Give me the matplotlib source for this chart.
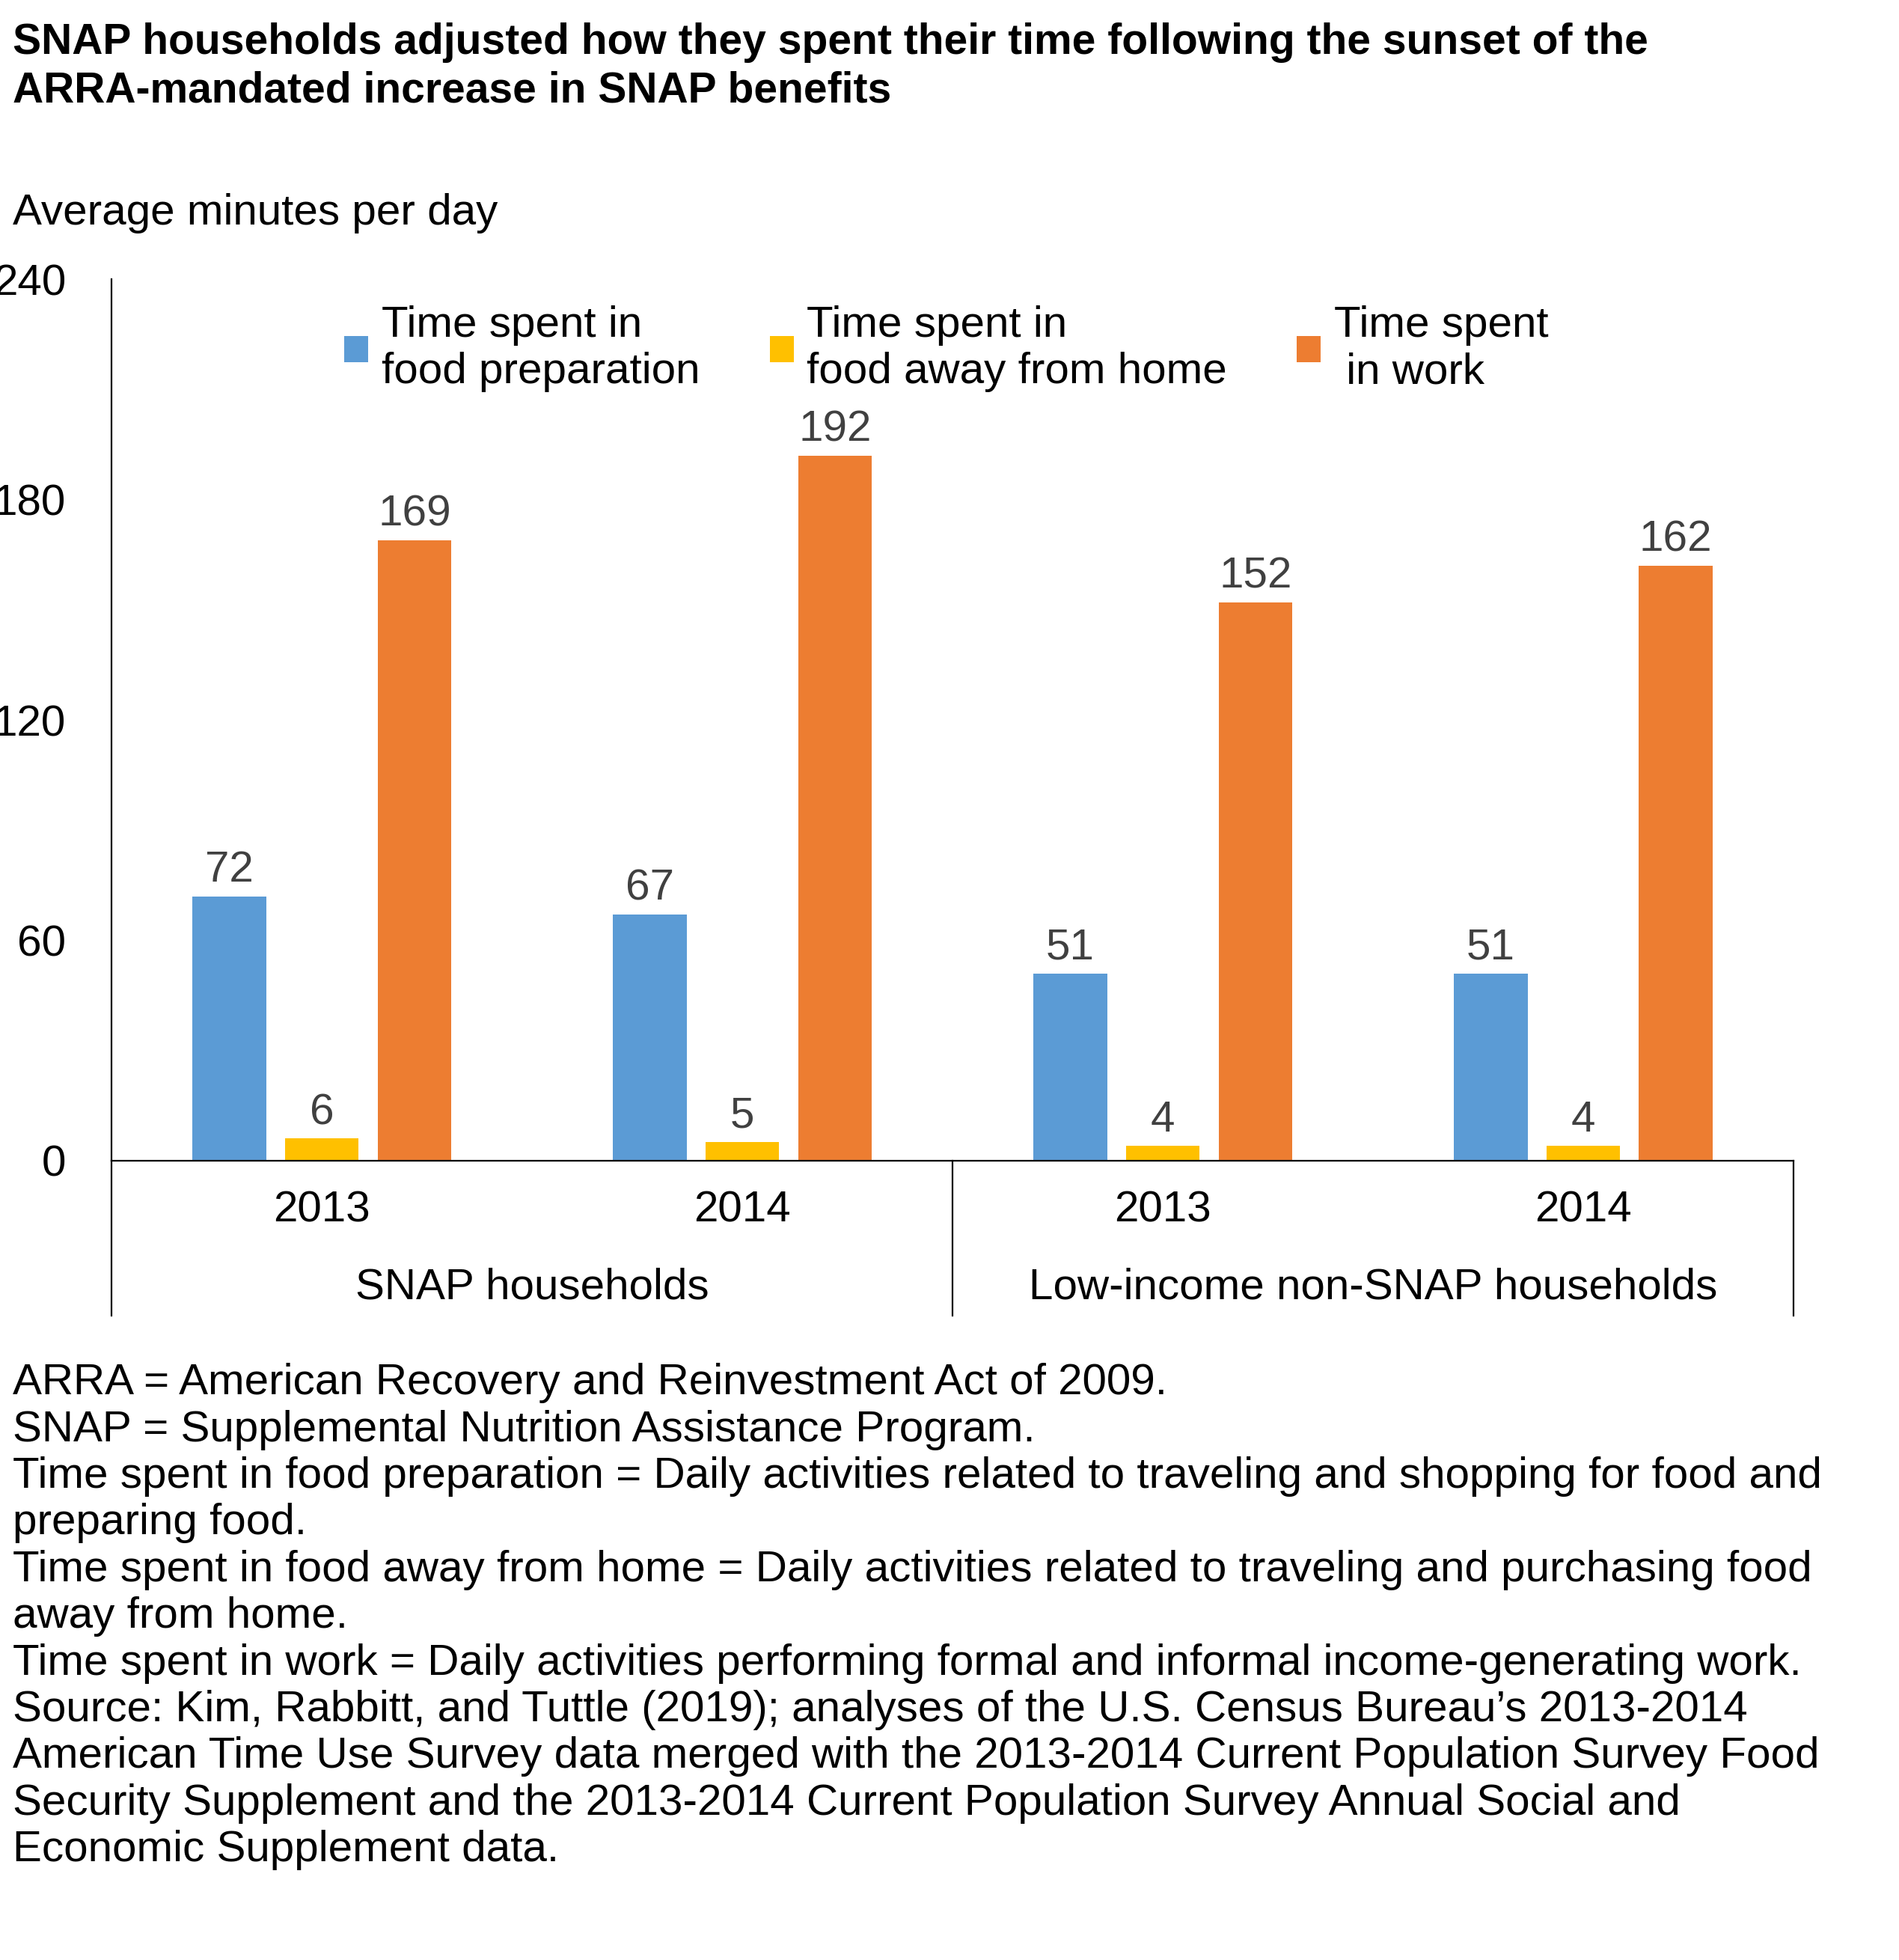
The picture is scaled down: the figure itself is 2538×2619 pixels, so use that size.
import numpy as np
import matplotlib.pyplot as plt
from matplotlib.lines import Line2D

plt.rcParams['font.family'] = ['Liberation Sans', 'DejaVu Sans']

years = ['2013', '2014', '2013', '2014']
groups = ['SNAP households', 'Low-income non-SNAP households']
series = ['Time spent in\nfood preparation', 'Time spent in\nfood away from home', 'Time spent\n in work']
food_prep = [72, 67, 51, 51]
food_away = [6, 5, 4, 4]
work = [169, 192, 152, 162]
colors = ['#5b9bd5', '#ffc000', '#ed7d31']

W, H = 1530, 1579
FS = 21
fig = plt.figure(figsize=(12.69, 13.095), dpi=200)
ax = fig.add_axes([90 / W, 1 - 935 / H, (1445 - 90) / W, (935 - 225) / H])

x = np.arange(len(years))
bw = 0.175
for off, vals, c, lab in zip([-0.22, 0, 0.22], [food_prep, food_away, work], colors, series):
    bars = ax.bar(x + off, vals, bw, color=c, label=lab)
    for b, v in zip(bars, vals):
        ax.text(b.get_x() + b.get_width() / 2, v + 1.5, str(v), ha='center', va='bottom',
                fontsize=FS, color='#404040')

ax.set_xlim(-0.5, 3.5)
ax.set_ylim(0, 240)
ax.set_yticks([0, 60, 120, 180, 240])
ax.tick_params(axis='y', length=0, labelsize=FS, pad=22)
ax.tick_params(axis='x', length=0)
ax.set_xticks([])
for s in ['top', 'right']:
    ax.spines[s].set_visible(False)
ax.spines['left'].set_linewidth(0.8)
ax.spines['bottom'].set_linewidth(0.8)

# category axis below
ybot = -(1060 - 935) / (935 - 225)
for xa in [0, 0.5, 1]:
    ax.add_line(Line2D([xa, xa], [0, ybot], transform=ax.transAxes, color='black',
                       lw=0.8, clip_on=False))
for xi, yr in zip(x, years):
    ax.text(xi, -(975 - 935) / (935 - 225) * 240, yr, ha='center', va='center', fontsize=FS)
for gi, g in enumerate(groups):
    ax.text(0.5 + 2 * gi, -(1037 - 935) / (935 - 225) * 240, g, ha='center', va='center', fontsize=FS)

ax.legend(ncol=3, frameon=False, loc='upper left', bbox_to_anchor=(0.115, 1.015),
          fontsize=FS, handlelength=0.55, handleheight=0.55, handletextpad=0.3,
          columnspacing=1.6)

fig.text(10 / W, 1 - 18 / H, 'SNAP households adjusted how they spent their time following the sunset of the\n'
         'ARRA-mandated increase in SNAP benefits', fontsize=20.5, fontweight='bold',
         va='top', linespacing=1.25)
fig.text(10 / W, 1 - 172 / H, 'Average minutes per day', fontsize=FS, va='center')

notes = ("ARRA = American Recovery and Reinvestment Act of 2009.\n"
         "SNAP = Supplemental Nutrition Assistance Program.\n"
         "Time spent in food preparation = Daily activities related to traveling and shopping for food and\n"
         "preparing food.\n"
         "Time spent in food away from home = Daily activities related to traveling and purchasing food\n"
         "away from home.\n"
         "Time spent in work = Daily activities performing formal and informal income-generating work.\n"
         "Source: Kim, Rabbitt, and Tuttle (2019); analyses of the U.S. Census Bureau\u2019s 2013-2014\n"
         "American Time Use Survey data merged with the 2013-2014 Current Population Survey Food\n"
         "Security Supplement and the 2013-2014 Current Population Survey Annual Social and\n"
         "Economic Supplement data.")
fig.text(10 / W, 1 - 1098 / H, notes, fontsize=FS, va='top', linespacing=1.2)

fig.savefig('out.png', dpi=200)
